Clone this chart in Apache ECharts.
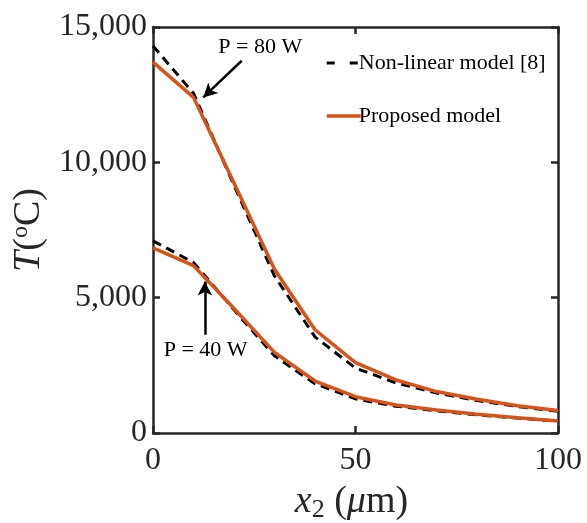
<!DOCTYPE html>
<html><head><meta charset="utf-8">
<script src="https://cdn.jsdelivr.net/npm/echarts@6/dist/echarts.min.js"></script>
<style>html,body{margin:0;padding:0;background:#fff}#c{width:587px;height:523px}</style>
</head><body><div id="c"></div>
<script>
const xPos = [0, 10, 20, 30, 40, 50, 60, 70, 80, 90, 100];
const nonLinear80 = [14300, 12550, 9150, 5800, 3550, 2400, 1850, 1480, 1200, 980, 800];
const proposed80 = [13700, 12400, 9240, 6050, 3815, 2600, 1960, 1530, 1250, 1010, 830];
const nonLinear40 = [7100, 6300, 4550, 2850, 1820, 1260, 990, 820, 670, 550, 440];
const proposed40 = [6840, 6185, 4600, 2980, 1920, 1340, 1037, 852, 693, 567, 444];
const xTicks = [0, 50, 100];
const yTicks = [0, 5000, 10000, 15000];
const nameNL = 'Non-linear model [8]';
const namePM = 'Proposed model';
const annotations = [
  { text: 'P = 80 W', label: [26.5, 14260], from: [21.9, 13752], to: [12.4, 12397] },
  { text: 'P = 40 W', label: [13.0, 3074], from: [12.8, 3630], to: [12.8, 5593] }
];

const FONT = 'Liberation Serif';
const ORANGE = '#D95319';
const AX = '#262626';
const pairs = (ys) => xPos.map((x, i) => [x, ys[i]]);
const fmt = (v) => String(v).replace(/\B(?=(\d{3})+(?!\d))/g, ',');

const chart = echarts.init(document.getElementById('c'), null, { renderer: 'canvas' });
const axisCommon = {
  axisLine: { show: true, onZero: false, lineStyle: { color: AX, width: 2.5 } },
  axisTick: { show: true, inside: true, length: 7, lineStyle: { color: AX, width: 2.5 } },
  splitLine: { show: false }
};
const dashedStyle = { color: '#000', width: 3, type: [9, 6] };
const solidStyle = { color: ORANGE, width: 3.5 };

chart.setOption({
  animation: false,
  grid: { left: 153, right: 29, top: 27, bottom: 90, containLabel: false, outerBoundsMode: 'none' },
  legend: {
    data: [
      { name: nameNL, lineStyle: { color: '#000', width: 3, type: [8, 15] } },
      { name: namePM, lineStyle: { color: ORANGE, width: 3.5 } }
    ],
    orient: 'vertical', left: 320, top: 47,
    itemWidth: 34, itemHeight: 14, itemGap: 31,
    itemStyle: { color: 'rgba(0,0,0,0)', borderWidth: 0, opacity: 0 },
    textStyle: { fontFamily: FONT, fontSize: 22, color: '#000', padding: [0, 0, 0, -7] }
  },
  xAxis: [
    Object.assign({
      type: 'value', min: 0, max: 100, interval: 50, position: 'bottom',
      name: '{it|x}{sub|2}{n| (}{it|μ}{n|m)}', nameLocation: 'middle', nameGap: 48,
      nameTextStyle: { padding: [0, 8, 0, 0], rich: {
        it: { fontFamily: FONT, fontStyle: 'italic', fontSize: 38, color: AX },
        n: { fontFamily: FONT, fontSize: 38, color: AX },
        sub: { fontFamily: FONT, fontSize: 26, color: AX, verticalAlign: 'bottom', padding: [16, 0, 0, 0] }
      } },
      axisLabel: { fontFamily: FONT, fontSize: 32, color: AX, margin: 12 }
    }, axisCommon),
    Object.assign({
      type: 'value', min: 0, max: 100, interval: 50, position: 'top',
      axisLabel: { show: false }
    }, axisCommon)
  ],
  yAxis: [
    Object.assign({
      type: 'value', min: 0, max: 15000, interval: 5000, position: 'left',
      name: '{it|T}{n|(}{sup|o}{n|C)}', nameLocation: 'middle', nameGap: 104,
      nameTextStyle: { rich: {
        it: { fontFamily: FONT, fontStyle: 'italic', fontSize: 38, color: AX },
        n: { fontFamily: FONT, fontSize: 38, color: AX },
        sup: { fontFamily: FONT, fontSize: 24, color: AX, verticalAlign: 'top', padding: [0, 0, 16, 0] }
      } },
      axisLabel: { fontFamily: FONT, fontSize: 32, color: AX, margin: 6,
        formatter: (v) => yTicks.includes(v) ? fmt(v) : '' }
    }, axisCommon),
    Object.assign({
      type: 'value', min: 0, max: 15000, interval: 5000, position: 'right',
      axisLabel: { show: false }
    }, axisCommon)
  ],
  series: [
    { name: nameNL, type: 'line', data: pairs(nonLinear80), showSymbol: false, symbol: 'none', lineStyle: dashedStyle, itemStyle: { color: '#000' }, z: 2 },
    { name: nameNL, type: 'line', data: pairs(nonLinear40), showSymbol: false, symbol: 'none', lineStyle: dashedStyle, itemStyle: { color: '#000' }, z: 2 },
    { name: namePM, type: 'line', data: pairs(proposed80), showSymbol: false, symbol: 'none', lineStyle: solidStyle, itemStyle: { color: ORANGE }, z: 3 },
    { name: namePM, type: 'line', data: pairs(proposed40), showSymbol: false, symbol: 'none', lineStyle: solidStyle, itemStyle: { color: ORANGE }, z: 3 },
    {
      name: 'annot', type: 'line', data: [], z: 4, silent: true,
      markLine: {
        silent: true, symbol: ['none', 'arrow'], symbolSize: [11, 14],
        lineStyle: { color: '#000', width: 2.5, type: 'solid' },
        label: { show: false },
        data: annotations.map(a => [{ coord: a.from }, { coord: a.to }])
      },
      markPoint: {
        silent: true, symbol: 'circle', symbolSize: 0,
        label: { show: true, position: 'inside', fontFamily: FONT, fontSize: 22, color: '#000',
          formatter: (p) => p.name },
        data: annotations.map(a => ({ name: a.text, coord: a.label }))
      }
    }
  ]
});
</script></body></html>
